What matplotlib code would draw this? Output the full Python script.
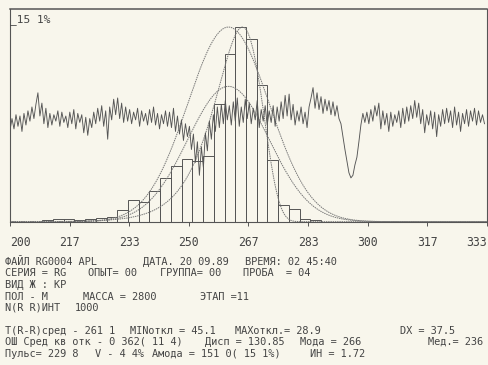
# -*- coding: utf-8 -*-
import numpy as np
import matplotlib
matplotlib.use('Agg')
import matplotlib.pyplot as plt

plt.rcParams['font.family'] = ['DejaVu Sans Mono', 'DejaVu Sans']

# гистограмма R-R интервалов (доля, %), шаг 3
bin_centers = [210.5, 213.5, 216.5, 219.5, 222.5, 225.5, 228.5, 231.5,
               234.5, 237.5, 240.5, 243.5, 246.5, 249.5, 252.5, 255.5,
               258.5, 261.5, 264.5, 267.5, 270.5, 273.5, 276.5, 279.5,
               282.5, 285.5]
bin_pct = [0.1, 0.2, 0.2, 0.1, 0.2, 0.3, 0.4, 0.9,
           1.7, 1.5, 2.4, 3.4, 4.3, 4.9, 4.7, 5.1,
           9.1, 13.0, 15.1, 14.2, 10.6, 4.8, 1.3, 1.0,
           0.2, 0.1]
bin_width = 3

rr_mean = 261.1
rr_sd = 11.4
mode_pct = 15.1
skew_center = 265.0
skew_scale = 6.5

# ритмограмма (в масштабе оси, %)
rhythm = [7.1, 8.0, 7.2, 8.3, 7.4, 8.2, 7.0, 8.4, 7.5, 8.6,
          7.8, 8.9, 8.0, 9.1, 10.0, 8.2, 9.2, 7.6, 8.8, 7.3,
          8.4, 7.5, 8.3, 7.8, 8.6, 7.4, 8.5, 7.7, 8.2, 7.3,
          8.5, 7.6, 8.7, 7.2, 8.4, 7.7, 8.3, 6.9, 8.1, 6.7,
          8.0, 7.3, 8.5, 7.6, 8.8, 7.8, 9.0, 7.4, 8.6, 6.4,
          8.9, 7.9, 9.5, 8.3, 9.6, 8.0, 9.2, 7.7, 8.9, 7.8,
          8.7, 7.6, 8.5, 7.9, 8.8, 7.4, 8.6, 7.8, 8.4, 7.5,
          8.7, 7.7, 8.9, 7.5, 8.4, 7.2, 8.3, 7.6, 8.6, 7.4,
          8.5, 7.3, 8.8, 7.0, 8.2, 6.8, 7.9, 6.3, 7.6, 6.6,
          7.4, 5.6, 6.8, 4.6, 6.2, 3.6, 5.8, 4.2, 6.9, 5.5,
          7.8, 6.4, 8.3, 7.0, 8.9, 7.3, 9.1, 7.6, 9.4, 7.9,
          9.0, 7.5, 9.3, 7.8, 9.6, 7.4, 8.9, 7.7, 9.5, 8.0,
          9.2, 7.6, 8.8, 7.9, 9.4, 7.3, 8.7, 7.8, 9.0, 7.5,
          8.6, 7.7, 9.0, 7.4, 8.9, 7.8, 9.3, 8.0, 9.8, 8.2,
          9.9, 7.9, 9.1, 7.5, 8.6, 7.8, 8.9, 7.6, 8.5, 7.3,
          8.9, 9.6, 10.4, 8.8, 10.0, 8.7, 9.7, 8.4, 9.5, 8.6,
          9.4, 8.3, 9.3, 8.2, 9.0, 8.0, 7.6, 6.6, 5.6, 4.7,
          3.8, 3.4, 3.6, 4.4, 5.0, 6.2, 7.5, 8.4, 7.7, 8.5,
          7.6, 8.7, 7.8, 9.0, 8.2, 9.2, 7.2, 8.6, 7.5, 8.4,
          7.0, 8.5, 7.4, 8.3, 7.7, 8.6, 7.3, 8.8, 7.6, 8.9,
          7.8, 9.0, 8.0, 9.4, 8.1, 9.2, 7.6, 8.7, 6.9, 8.3,
          7.5, 8.6, 7.2, 8.5, 6.6, 8.3, 7.4, 8.7, 7.6, 8.8,
          7.7, 8.6, 7.3, 8.9, 7.5, 8.5, 7.0, 8.4, 7.6, 8.7,
          7.4, 8.6, 7.8, 8.8, 7.5, 8.6, 7.7, 8.3, 7.6]

tick_vals = [200, 216.67, 233.33, 250, 266.67, 283.33, 300, 316.67, 333.33]
tick_labels = ['200', '217', '233', '250', '267', '283', '300', '317', '333']

text_rows = [
    (262, [(5, 'ФАЙЛ RG0004 APL'), (143, 'ДАТА. 20 09.89'), (245, 'ВРЕМЯ: 02 45:40')]),
    (273, [(5, 'СЕРИЯ = RG'), (88, 'ОПЫТ= 00'), (160, 'ГРУППА= 00'), (243, 'ПРОБА  = 04')]),
    (285, [(5, 'ВИД Ж : КР')]),
    (297, [(5, 'ПОЛ - М'), (83, 'МАССА = 2800'), (200, 'ЭТАП =11')]),
    (308, [(5, 'N(R R)ИНТ'), (75, '1000')]),
    (331, [(5, 'T(R-R)сред - 261 1'), (130, 'MINоткл = 45.1'), (235, 'MAXоткл.= 28.9'), (400, 'DX = 37.5')]),
    (342, [(5, 'ОШ Сред кв отк - 0 362( 11 4)'), (205, 'Дисп = 130.85'), (300, 'Мода = 266'), (428, 'Мед.= 236')]),
    (354, [(5, 'Пульс= 229 8'), (95, 'V - 4 4%'), (152, 'Амода = 151 0( 15 1%)'), (310, 'ИН = 1.72')]),
]

paper = '#f8f6ec'
ink = '#555555'

fig = plt.figure(figsize=(4.89, 3.65), dpi=100, facecolor=paper)
ax = fig.add_axes([10 / 489, 1 - 221.7 / 365, 477 / 489, 212.7 / 365])
ax.set_facecolor(paper)

ax.bar(bin_centers, bin_pct, width=bin_width, facecolor='none', edgecolor=ink, linewidth=0.7)

x = np.linspace(200, 333.4, 600)
curve_a = mode_pct * np.exp(-0.5 * ((x - rr_mean) / rr_sd) ** 2)
curve_b = 100 * bin_width / (rr_sd * np.sqrt(2 * np.pi)) * np.exp(-0.5 * ((x - rr_mean) / rr_sd) ** 2)
z = (x - skew_center) / skew_scale
curve_c = mode_pct * np.exp(z - np.exp(z) + 1)
for c in [curve_a, curve_b, curve_c]:
    ax.plot(x, c, color='#777777', linewidth=0.7, linestyle=(0, (1.5, 0.8)))

xr = np.linspace(200, 332.7, len(rhythm))
ax.plot(xr, rhythm, color=ink, linewidth=0.65)

ax.set_xlim(200, 333.4)
ax.set_ylim(0, 16.5)
ax.set_xticks(tick_vals)
ax.set_xticklabels(tick_labels, fontsize=8.3, color='#444444')
ax.tick_params(axis='x', direction='out', length=3, width=0.7, color=ink, pad=7)
ax.set_yticks([])
lbls = ax.get_xticklabels()
lbls[0].set_ha('left')
lbls[-1].set_ha('right')
for s in ax.spines.values():
    s.set_color(ink)
    s.set_linewidth(0.8)
ax.spines['top'].set_linewidth(1.1)

ax.text(0.0, 0.95, '_15 1%', transform=ax.transAxes, fontsize=8, color='#444444', va='center')

for y, fields in text_rows:
    for xp, s in fields:
        fig.text(xp / 489, 1 - y / 365, s, fontsize=7.4, color='#444444', va='center')

fig.savefig('out.png', dpi=100, facecolor=paper)
